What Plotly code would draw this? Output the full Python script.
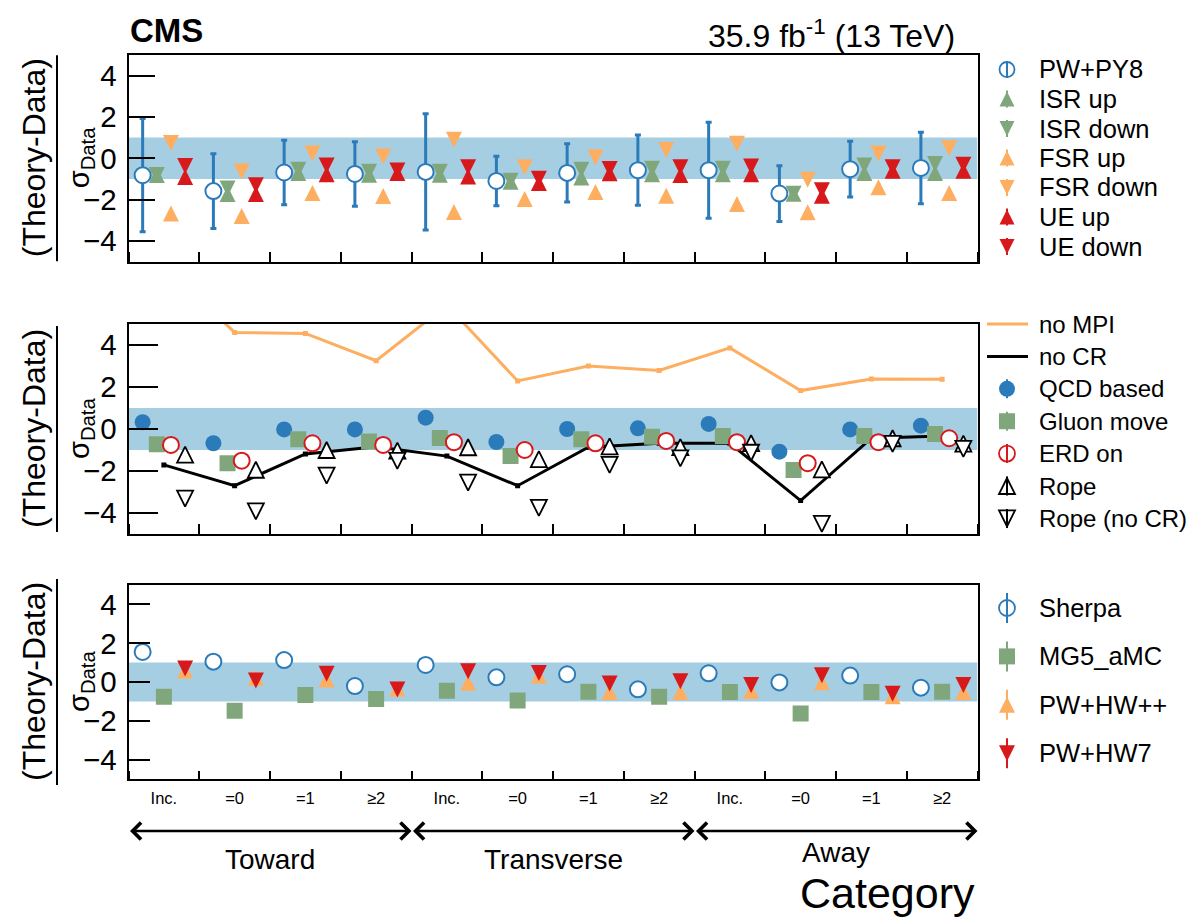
import plotly.graph_objects as go

W, H = 1192, 918

# ---------------------------------------------------------------- data
categories = ["Inc.", "=0", "=1", "≥2"] * 3
regions = ["Toward", "Transverse", "Away"]

# upper panel: PYTHIA 8 tune variations
pwpy8 = [-0.82, -1.59, -0.69, -0.76, -0.66, -1.10, -0.71, -0.58, -0.58, -1.71, -0.53, -0.47]
pwpy8_err = [2.74, 1.81, 1.56, 1.56, 2.82, 1.20, 1.41, 1.70, 2.32, 1.35, 1.35, 1.73]
isr_up = [-0.81, -1.73, -0.72, -0.80, -0.80, -1.14, -0.93, -0.77, -0.77, -1.72, -0.72, -0.72]
isr_down = [-0.81, -1.47, -0.56, -0.65, -0.65, -1.09, -0.56, -0.51, -0.51, -1.72, -0.35, -0.28]
fsr_up = [-2.67, -2.80, -1.68, -1.83, -2.60, -1.97, -1.64, -1.81, -2.21, -2.62, -1.41, -1.68]
fsr_down = [0.74, -0.64, 0.23, 0.09, 0.89, -0.44, 0.04, 0.40, 0.70, -1.04, 0.23, 0.49]
ue_up = [-0.91, -1.73, -0.77, -0.72, -0.88, -1.20, -0.73, -0.81, -0.77, -1.81, -0.60, -0.60]
ue_down = [-0.38, -1.31, -0.35, -0.59, -0.43, -0.99, -0.52, -0.43, -0.40, -1.55, -0.44, -0.31]

# middle panel: MPI / colour reconnection models
no_mpi = [7.8, 4.6, 4.55, 3.25, 5.9, 2.29, 3.0, 2.79, 3.86, 1.83, 2.38, 2.37]
no_cr = [-1.71, -2.70, -1.19, -0.84, -1.29, -2.70, -0.87, -0.68, -0.68, -3.41, -0.44, -0.33]
qcd_based = [0.32, -0.68, -0.02, -0.02, 0.54, -0.62, 0.00, 0.03, 0.24, -1.08, -0.02, 0.16]
gluon_move = [-0.73, -1.63, -0.49, -0.59, -0.43, -1.29, -0.49, -0.37, -0.33, -1.95, -0.33, -0.24]
erd_on = [-0.76, -1.51, -0.68, -0.76, -0.63, -1.00, -0.68, -0.57, -0.63, -1.63, -0.63, -0.44]
rope = [-1.22, -1.94, -1.00, -1.03, -0.87, -1.43, -0.83, -0.86, -0.67, -1.92, -0.44, -0.70]
rope_no_cr = [-3.32, -3.92, -2.22, -1.52, -2.55, -3.76, -1.71, -1.40, -1.13, -4.52, -0.71, -0.95]

# lower panel: alternative generators
sherpa = [1.55, 1.05, 1.13, -0.21, 0.88, 0.24, 0.40, -0.38, 0.45, -0.02, 0.33, -0.29]
mg5_amc = [-0.76, -1.48, -0.67, -0.88, -0.45, -0.96, -0.50, -0.76, -0.52, -1.63, -0.52, -0.50]
pw_hwpp = [0.59, 0.22, 0.13, -0.33, -0.04, 0.33, -0.51, -0.51, -0.47, -0.01, -0.73, -0.51]
pw_hw7 = [0.69, 0.08, 0.42, -0.39, 0.56, 0.47, -0.08, 0.04, -0.16, 0.35, -0.61, -0.16]

# ---------------------------------------------------------------- style
BLUE = "#2b7bba"
BAND = "#a6cee3"
GREEN = "#80a77b"
ORANGE = "#fdae61"
RED = "#d7191c"
FONT = "Liberation Sans, Arial, Helvetica, sans-serif"


def xp(px):
    return px / W


def yp(px):
    return 1 - px / H


X0, X1 = 128.5, 977.5
PANELS = [(55, 261.5), (324, 534), (585, 779)]  # pixel top/bottom of each frame
NB = len(categories)
MS = 16  # marker size in the plot


def xs(offset):
    return [i + offset for i in range(NB)]


# series of each panel: (name, values, x offset in bin, glyph, colour, filled)
series = [
    [("PW+PY8", pwpy8, 0.2, "circle", BLUE, False),
     ("ISR up", isr_up, 0.4, "up", GREEN, True),
     ("ISR down", isr_down, 0.4, "down", GREEN, True),
     ("FSR up", fsr_up, 0.6, "up", ORANGE, True),
     ("FSR down", fsr_down, 0.6, "down", ORANGE, True),
     ("UE up", ue_up, 0.8, "up", RED, True),
     ("UE down", ue_down, 0.8, "down", RED, True)],
    [("no MPI", no_mpi, 0.5, "line", ORANGE, True),
     ("no CR", no_cr, 0.5, "line", "black", True),
     ("QCD based", qcd_based, 0.2, "circle", BLUE, True),
     ("Gluon move", gluon_move, 0.4, "square", GREEN, True),
     ("ERD on", erd_on, 0.6, "circle", RED, False),
     ("Rope", rope, 0.8, "up", "black", False),
     ("Rope (no CR)", rope_no_cr, 0.8, "down", "black", False)],
    [("Sherpa", sherpa, 0.2, "circle", BLUE, False),
     ("MG5_aMC", mg5_amc, 0.5, "square", GREEN, True),
     ("PW+HW++", pw_hwpp, 0.8, "up", ORANGE, True),
     ("PW+HW7", pw_hw7, 0.8, "down", RED, True)],
]
errors = {"PW+PY8": pwpy8_err}


def marker_for(glyph, color, filled):
    fill = color if filled else "white"
    line = dict(width=0) if filled else dict(color=color, width=2 if glyph == "circle" else 1.8)
    if glyph in ("circle", "square"):
        return dict(symbol=glyph, size=MS, color=fill, line=line)
    # 'arrow-down' has its apex on the point; a standoff of half the size and
    # a rotation give a triangle centred on its value
    return dict(symbol="arrow-down", size=MS, standoff=MS / 2,
                angle=180 if glyph == "up" else 0, color=fill, line=line)


fig = go.Figure()

for k, group in enumerate(series):
    sx = "" if k == 0 else str(k + 1)
    for name, vals, off, glyph, color, filled in group:
        kw = dict(x=xs(off), y=vals, name=name, showlegend=False,
                  xaxis=f"x{sx}", yaxis=f"y{sx}")
        if glyph == "line":
            kw.update(mode="lines+markers", line=dict(color=color, width=3),
                      marker=dict(symbol="square", size=5, color=color))
        else:
            kw.update(mode="markers", marker=marker_for(glyph, color, filled))
        if name in errors:
            kw["error_y"] = dict(type="data", array=errors[name], color=color,
                                 thickness=3, width=3)
        fig.add_trace(go.Scatter(**kw))

# ---------------------------------------------------------------- axes
for k, (top, bot) in enumerate(PANELS):
    sx = "" if k == 0 else str(k + 1)
    last = k == 2
    fig.layout[f"xaxis{sx}"] = dict(
        domain=[xp(X0), xp(X1)], range=[0, NB], anchor=f"y{sx}",
        showline=True, linecolor="black", linewidth=2, mirror=True,
        showgrid=False, zeroline=False,
        tickmode="array", tickvals=xs(0.5), ticktext=categories,
        ticks="", showticklabels=last,
        tickfont=dict(size=16.5, family=FONT, color="black"),
        ticklabelstandoff=3,
        minor=dict(tick0=0, dtick=1, ticks="inside", ticklen=8 if last else 10,
                   tickwidth=1.5, tickcolor="black"))
    fig.layout[f"yaxis{sx}"] = dict(
        domain=[yp(bot), yp(top)], range=[-5, 5], anchor=f"x{sx}",
        showline=True, linecolor="black", linewidth=2, mirror=True,
        showgrid=False, zeroline=False,
        tickvals=[-4, -2, 0, 2, 4], ticks="inside", ticklen=[26, 29, 21][k], tickwidth=2,
        tickcolor="black", tickfont=dict(size=29.5, family=FONT, color="black"),
        ticklabelstandoff=4)
    # +-1 sigma band
    fig.add_shape(type="rect", xref=f"x{sx}", yref=f"y{sx}", x0=0, x1=NB, y0=-1, y1=1,
                  fillcolor=BAND, line=dict(width=0), layer="below")
    # y title: (Theory-Data) / sigma_Data
    yc = (top + bot) / 2
    fig.add_annotation(xref="paper", yref="paper", x=xp(34), y=yp(yc),
                       xanchor="center", yanchor="middle", text="(Theory-Data)",
                       textangle=-90, showarrow=False,
                       font=dict(size=32, family=FONT, color="black"))
    fig.add_shape(type="line", xref="paper", yref="paper", x0=xp(57), x1=xp(57),
                  y0=yp(yc - 103), y1=yp(yc + 103), line=dict(color="black", width=2))
    fig.add_annotation(xref="paper", yref="paper", x=xp(81), y=yp(yc),
                       xanchor="center", yanchor="middle", text="σ<sub>Data</sub>",
                       textangle=-90, showarrow=False,
                       font=dict(size=29, family=FONT, color="black"))

# ---------------------------------------------------------------- legends
LEG_X, LEG_TEXT = 1007, 1038
# first-row centre, row step, font size, glyph size, half length of the stem
leg_rows = [(69.5, 29.5, 25.5, 15, 8.5), (324, 32.4, 24, 16, 9.5), (608, 48.4, 25.5, 16, 15)]


def pshape(**kw):
    fig.add_shape(xref="paper", yref="paper", layer="above", **kw)


def stem(cx, cy, half, color):
    pshape(type="line", x0=xp(cx), x1=xp(cx), y0=yp(cy - half), y1=yp(cy + half),
           line=dict(color=color, width=2))


def legend_glyph(glyph, color, filled, cx, cy, s, half):
    fill = color if filled else "white"
    r = s / 2
    if glyph == "line":
        pshape(type="line", x0=xp(987), x1=xp(1028), y0=yp(cy), y1=yp(cy),
               line=dict(color=color, width=3))
        return
    if filled:
        stem(cx, cy, half, color)
    lw = 0 if filled else 1.8
    if glyph == "circle":
        pshape(type="circle", x0=xp(cx - r), x1=xp(cx + r), y0=yp(cy + r), y1=yp(cy - r),
               fillcolor=fill, line=dict(color=color, width=lw))
    elif glyph == "square":
        pshape(type="rect", x0=xp(cx - r), x1=xp(cx + r), y0=yp(cy + r), y1=yp(cy - r),
               fillcolor=fill, line=dict(color=color, width=lw))
    else:
        tip, base = (cy - r, cy + r) if glyph == "up" else (cy + r, cy - r)
        path = (f"M{xp(cx - r)},{yp(base)} L{xp(cx + r)},{yp(base)} "
                f"L{xp(cx)},{yp(tip)} Z")
        pshape(type="path", path=path, fillcolor=fill, line=dict(color=color, width=lw))
    if not filled:
        stem(cx, cy, half, color)


for group, (y0, dy, fs, gs, half) in zip(series, leg_rows):
    for i, (name, _, _, glyph, color, filled) in enumerate(group):
        cy = y0 + i * dy
        legend_glyph(glyph, color, filled, LEG_X, cy, gs, half)
        fig.add_annotation(xref="paper", yref="paper", x=xp(LEG_TEXT), y=yp(cy),
                           xanchor="left", yanchor="middle", text=name, showarrow=False,
                           borderpad=0, font=dict(size=fs, family=FONT, color="black"))

# ---------------------------------------------------------------- labels
fig.add_annotation(xref="paper", yref="paper", x=xp(128), y=yp(31),
                   xanchor="left", yanchor="middle",
                   text="<b>CMS</b>", showarrow=False,
                   font=dict(size=33, family=FONT, color="black"))
fig.add_annotation(xref="paper", yref="paper", x=xp(957), y=yp(34),
                   xanchor="right", yanchor="middle",
                   text="35.9 fb<sup>-1</sup> (13 TeV)", showarrow=False,
                   font=dict(size=32, family=FONT, color="black"))

for g, region in enumerate(regions):
    a, b = 4 * g, 4 * g + 4
    fig.add_annotation(xref="x3", yref="paper", axref="x3", ayref="pixel",
                       x=b, ax=a, y=yp(831), ay=0, text="", showarrow=True,
                       arrowside="end+start", arrowhead=4, arrowsize=1.3, arrowwidth=2.5,
                       arrowcolor="black", standoff=0, startstandoff=0)
    fig.add_annotation(xref="x3", yref="paper", x=(a + b) / 2,
                       y=yp(852.5 if region == "Away" else 859),
                       xanchor="center", yanchor="middle", borderpad=0,
                       text=region, showarrow=False,
                       font=dict(size=28, family=FONT, color="black"))

fig.add_annotation(xref="paper", yref="paper", x=xp(976), y=yp(893.3),
                   xanchor="right", yanchor="middle", borderpad=0,
                   text="Category", showarrow=False,
                   font=dict(size=43, family=FONT, color="black"))

fig.update_layout(
    width=W, height=H, margin=dict(l=0, r=0, t=0, b=0),
    paper_bgcolor="white", plot_bgcolor="white", showlegend=False,
    font=dict(family=FONT, color="black"),
)

fig.write_html("out.html")
